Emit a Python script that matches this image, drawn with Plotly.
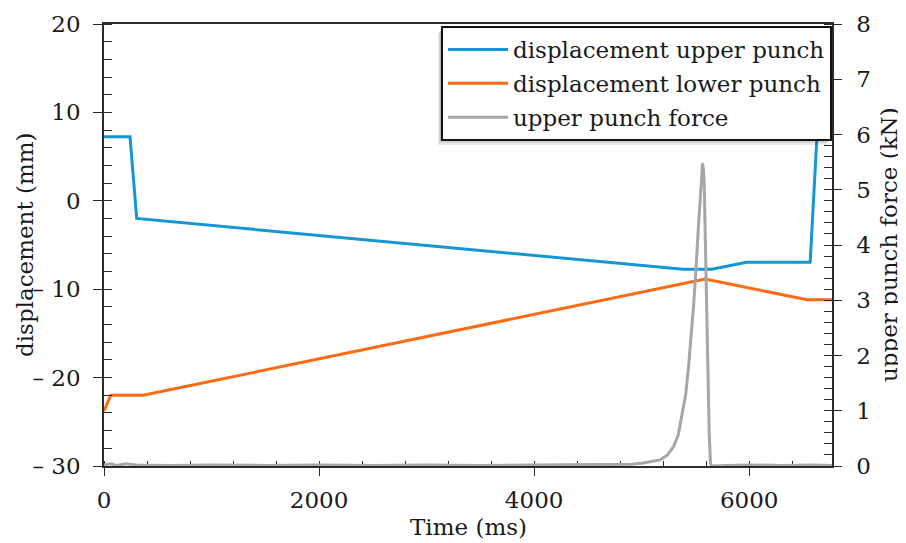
import plotly.graph_objects as go

# ---------------- data ----------------
time_upper = [0, 242, 304, 5386, 5652, 5977, 6567, 6630, 6770]
disp_upper = [7.25, 7.25, -2.0, -7.75, -7.75, -6.95, -6.95, 7.25, 7.25]

time_lower = [0, 62, 363, 5590, 6540, 6770]
disp_lower = [-23.8, -22.0, -22.0, -8.85, -11.2, -11.2]

time_force = [0, 60, 120, 200, 300, 600, 1000, 1500, 2000, 2500, 3000, 3500, 4000,
              4500, 4900, 5000, 5100, 5172, 5240, 5296, 5340, 5374, 5410, 5436,
              5460, 5482, 5500, 5513, 5530, 5544, 5556, 5566, 5575, 5582, 5595,
              5615, 5628, 5640, 5652, 5800, 6000, 6300, 6600, 6770]
force = [0.02, 0.04, 0.01, 0.04, 0.02, 0.01, 0.02, 0.01, 0.02, 0.01, 0.02, 0.01, 0.02,
         0.02, 0.03, 0.05, 0.08, 0.11, 0.2, 0.35, 0.56, 0.89, 1.3, 1.8,
         2.3, 2.88, 3.4, 3.91, 4.4, 4.81, 5.2, 5.48, 5.35, 5.1, 3.8,
         1.5, 0.6, 0.05, 0.0, 0.01, 0.02, 0.01, 0.02, 0.01]

names = ["displacement upper punch", "displacement lower punch", "upper punch force"]
colors = ["#1496d4", "#ff6a14", "#a6a6a6"]

left_tickvals = [-30, -20, -10, 0, 10, 20]
left_ticktext = ["\u2013 30", "\u2013 20", "\u2013 10", "0", "10", "20"]
right_tickvals = [0, 1, 2, 3, 4, 5, 6, 7, 8]
x_tickvals = [0, 2000, 4000, 6000]

x_title = "Time (ms)"
y_title = "displacement (mm)"
y2_title = "upper punch force (kN)"

FONT = "DejaVu Serif"
AX = "#2b2b2b"
TXT = "#1a1a1a"

# the page places the figure 8 px from the top-left corner of the window
OFF = 8
FIG_W, FIG_H = 906 - OFF, 543 - OFF
# plot area in window pixels: x 104..832, y 24..466
L, R, T, B = 104, 832, 24, 466
W, H = R - L, B - T


def px(xp):
    return (xp - L) / W


def py(yp):
    return (B - yp) / H


fig = go.Figure()
fig.add_trace(go.Scatter(x=time_upper, y=disp_upper, mode="lines", name=names[0],
                         line=dict(color=colors[0], width=3), legendgroup="a"))
fig.add_trace(go.Scatter(x=time_lower, y=disp_lower, mode="lines", name=names[1],
                         line=dict(color=colors[1], width=3), legendgroup="b"))
fig.add_trace(go.Scatter(x=time_force, y=force, mode="lines", name=names[2],
                         line=dict(color=colors[2], width=3), legendgroup="c",
                         yaxis="y2"))

fig.update_layout(
    width=FIG_W, height=FIG_H,
    margin=dict(l=L - OFF, r=906 - R, t=T - OFF, b=543 - B, autoexpand=False),
    paper_bgcolor="white", plot_bgcolor="white",
    font=dict(family=FONT, size=23, color=TXT),
    xaxis=dict(
        range=[0, 6770], tickvals=x_tickvals, ticks="outside", ticklen=8,
        tickwidth=1.3, tickcolor=AX, showline=True, linecolor=AX, linewidth=1.5,
        mirror=True, showgrid=False, zeroline=False, ticklabelstandoff=5,
        automargin=False,
        minor=dict(dtick=400, tick0=0, ticks="inside", ticklen=5, tickwidth=1.2,
                   tickcolor=AX, showgrid=False),
        layer="below traces",
    ),
    yaxis=dict(
        range=[-30, 20], tickvals=left_tickvals, ticktext=left_ticktext,
        ticks="outside", ticklen=9, tickwidth=1.3, tickcolor=AX,
        showline=True, linecolor=AX, linewidth=1.5, showgrid=False, zeroline=False,
        ticklabelstandoff=8, automargin=False,
        minor=dict(dtick=2, tick0=0, ticks="inside", ticklen=8, tickwidth=1.2,
                   tickcolor=AX, showgrid=False),
    ),
    yaxis2=dict(
        range=[0, 8], tickvals=right_tickvals, overlaying="y", side="right",
        ticks="outside", ticklen=8, tickwidth=1.3, tickcolor=AX,
        showline=True, linecolor=AX, linewidth=1.5, showgrid=False, zeroline=False,
        ticklabelstandoff=10, automargin=False,
        minor=dict(dtick=0.2, tick0=0, ticks="inside", ticklen=8, tickwidth=1.2,
                   tickcolor=AX, showgrid=False),
    ),
    legend=dict(
        x=1, xanchor="right", y=py(26), yanchor="top",
        bgcolor="white", bordercolor="#111111", borderwidth=2,
        font=dict(family=FONT, size=23, color=TXT),
        traceorder="grouped", tracegroupgap=1, itemwidth=60,
    ),
    showlegend=True,
)

# axis titles
fig.add_annotation(text=x_title, xref="paper", yref="paper", x=px(468), y=py(527),
                   xanchor="center", yanchor="middle", showarrow=False,
                   font=dict(family=FONT, size=23, color=TXT))
fig.add_annotation(text=y_title, xref="paper", yref="paper", x=px(25), y=py(245),
                   xanchor="center", yanchor="middle", showarrow=False, textangle=-90,
                   font=dict(family=FONT, size=23, color=TXT))
fig.add_annotation(text=y2_title, xref="paper", yref="paper", x=px(889), y=py(245),
                   xanchor="center", yanchor="middle", showarrow=False, textangle=-90,
                   font=dict(family=FONT, size=23, color=TXT))

# soft drop shadow for the legend box
for dx, dy, op in [(5, 7, 0.08), (4, 5, 0.10), (3, 3, 0.12)]:
    fig.add_shape(type="rect", xref="paper", yref="paper",
                  x0=px(443 - dx), x1=px(832 - dx), y0=py(138 + dy), y1=py(26 + dy),
                  line=dict(width=0), fillcolor="black", opacity=op, layer="above")

fig.write_html("out.html")
